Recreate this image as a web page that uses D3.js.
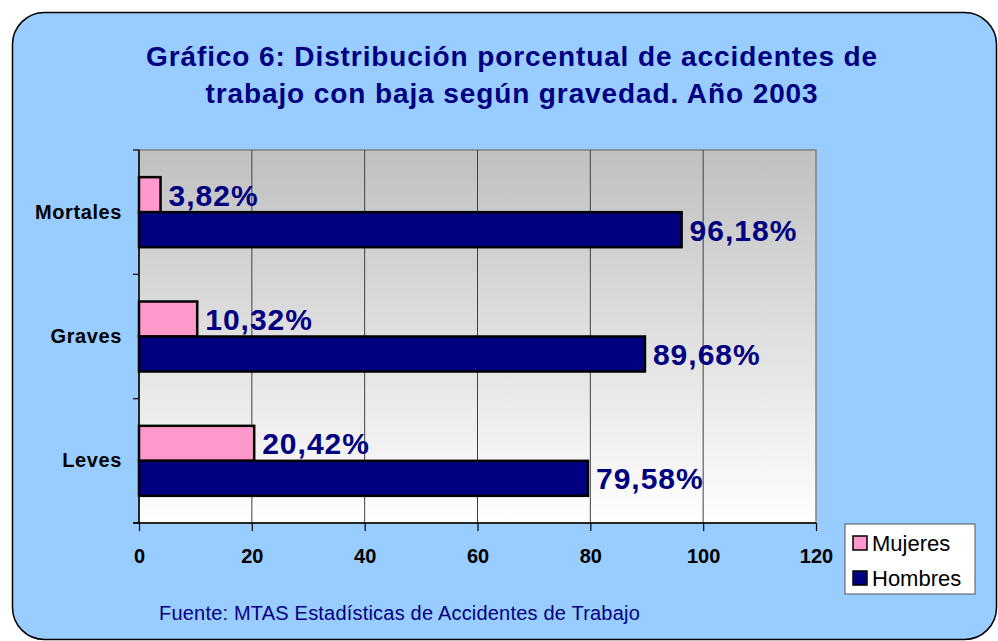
<!DOCTYPE html>
<html>
<head>
<meta charset="utf-8">
<script src="https://cdn.jsdelivr.net/npm/d3@7"></script>
<style>
  body { margin: 0; background: #fff; }
  svg { display: block; font-family: "Liberation Sans", Arial, sans-serif; }
</style>
</head>
<body>
<div id="chart"></div>
<script>
// chart data
var categories = ["Mortales", "Graves", "Leves"];
var seriesNames = ["Mujeres", "Hombres"];
var mujeres = [3.82, 10.32, 20.42];
var hombres = [96.18, 89.68, 79.58];
var xTicks = [0, 20, 40, 60, 80, 100, 120];
var titleLines = ["Gráfico 6: Distribución porcentual de accidentes de",
                  "trabajo con baja según gravedad. Año 2003"];
var sourceText = "Fuente: MTAS Estadísticas de Accidentes de Trabajo";

var W = 998, H = 641;
var colors = {Mujeres: "#FF99CC", Hombres: "#000080"};

var svg = d3.select("#chart")
    .append("svg")
    .attr("width", W)
    .attr("height", H);

// outer rounded frame
svg.append("rect")
    .attr("x", 12.5).attr("y", 12.5)
    .attr("width", 984).attr("height", 627)
    .attr("rx", 32).attr("ry", 32)
    .attr("fill", "#99CCFF")
    .attr("stroke", "#000")
    .attr("stroke-width", 1.5);

// title
svg.append("g").selectAll("text")
    .data(titleLines)
    .enter().append("text")
    .attr("x", 512)
    .attr("y", function(d, i) { return 66 + i * 37; })
    .attr("text-anchor", "middle")
    .attr("fill", "#000080")
    .style("font-size", "28px")
    .style("letter-spacing", "0.9px")
    .style("font-weight", "bold")
    .text(function(d) { return d; });

var margin = {top: 150, left: 139},
    width = 816 - 139,
    height = 523 - 150;

var g = svg.append("g")
    .attr("transform", "translate(" + margin.left + "," + margin.top + ")");

// gradient plot background
var grad = svg.append("defs").append("linearGradient")
    .attr("id", "plotBg")
    .attr("x1", 0).attr("y1", 0).attr("x2", 0).attr("y2", 1);
grad.append("stop").attr("offset", "0%").attr("stop-color", "#C0C0C0");
grad.append("stop").attr("offset", "100%").attr("stop-color", "#FFFFFF");

g.append("rect")
    .attr("width", width)
    .attr("height", height)
    .attr("fill", "url(#plotBg)")
    .attr("stroke", "#808080")
    .attr("stroke-width", 1.5);

var x = d3.scaleLinear()
    .domain([0, 120])
    .range([0, width]);

var y = d3.scaleBand()
    .domain(categories)
    .range([0, height]);

var ySub = d3.scaleBand()
    .domain(seriesNames)
    .range([0, 70]);

// vertical gridlines
g.append("g").selectAll("line")
    .data(xTicks.slice(1, -1))
    .enter().append("line")
    .attr("x1", function(d) { return x(d); })
    .attr("x2", function(d) { return x(d); })
    .attr("y1", 0).attr("y2", height)
    .attr("stroke", "#404040")
    .attr("stroke-width", 1);

// bars
var rows = categories.map(function(c, i) {
    return {cat: c, values: [
        {name: "Mujeres", value: mujeres[i]},
        {name: "Hombres", value: hombres[i]}
    ]};
});

var groups = g.selectAll(".grp")
    .data(rows)
    .enter().append("g")
    .attr("class", "grp")
    .attr("transform", function(d) {
        return "translate(0," + (y(d.cat) + y.bandwidth() / 2 - 35) + ")";
    });

groups.selectAll("rect")
    .data(function(d) { return d.values; })
    .enter().append("rect")
    .attr("x", 0)
    .attr("y", function(d) { return ySub(d.name); })
    .attr("width", function(d) { return x(d.value); })
    .attr("height", ySub.bandwidth())
    .attr("fill", function(d) { return colors[d.name]; })
    .attr("stroke", "#000")
    .attr("stroke-width", 2.5);

groups.selectAll("text")
    .data(function(d) { return d.values; })
    .enter().append("text")
    .attr("x", function(d) { return x(d.value) + 8; })
    .attr("y", function(d) { return ySub(d.name) + ySub.bandwidth() / 2 + 11; })
    .attr("fill", "#000080")
    .style("font-size", "30px")
    .style("letter-spacing", "1px")
    .style("font-weight", "bold")
    .text(function(d) { return d.value.toFixed(2).replace(".", ",") + "%"; });

// x axis
var xAxis = g.append("g")
    .attr("transform", "translate(0," + height + ")")
    .call(d3.axisBottom(x).tickValues(xTicks).tickSize(8).tickSizeOuter(0));
xAxis.select(".domain").attr("stroke", "#000").attr("stroke-width", 1.5)
    .attr("d", "M-6,0H" + width);
xAxis.selectAll(".tick line").attr("stroke", "#000").attr("stroke-width", 1.2);
xAxis.selectAll("text")
    .attr("dy", 0)
    .attr("y", 40)
    .attr("fill", "#000")
    .style("font-size", "20px")
    .style("font-weight", "bold")
    .style("font-family", "Liberation Sans, Arial, sans-serif");

// y axis
var yAxis = g.append("g")
    .call(d3.axisLeft(y).tickSize(0).tickPadding(17));
yAxis.select(".domain").attr("stroke", "#000").attr("stroke-width", 1.5)
    .attr("d", "M0,0V" + height);
yAxis.selectAll("text")
    .attr("fill", "#000")
    .style("font-size", "20px")
    .style("letter-spacing", "0.6px")
    .style("font-weight", "bold")
    .style("font-family", "Liberation Sans, Arial, sans-serif");

// category boundary ticks
g.append("g").selectAll("line")
    .data(d3.range(categories.length + 1))
    .enter().append("line")
    .attr("x1", -6).attr("x2", 0)
    .attr("y1", function(i) { return i * y.step(); })
    .attr("y2", function(i) { return i * y.step(); })
    .attr("stroke", "#000")
    .attr("stroke-width", 1.2);

// legend
var legend = svg.append("g")
    .attr("transform", "translate(845,524)");
legend.append("rect")
    .attr("width", 130).attr("height", 70)
    .attr("fill", "#fff")
    .attr("stroke", "#555")
    .attr("stroke-width", 1);
var li = legend.selectAll(".li")
    .data(seriesNames)
    .enter().append("g")
    .attr("class", "li")
    .attr("transform", function(d, i) { return "translate(8," + (12 + i * 35) + ")"; });
li.append("rect")
    .attr("width", 14).attr("height", 14)
    .attr("fill", function(d) { return colors[d]; })
    .attr("stroke", "#000")
    .attr("stroke-width", 1.5);
li.append("text")
    .attr("x", 19).attr("y", 15)
    .attr("fill", "#000")
    .style("font-size", "22px")
    .text(function(d) { return d; });

// source note
svg.append("text")
    .attr("x", 159).attr("y", 620)
    .attr("fill", "#000080")
    .style("font-size", "20px")
    .style("letter-spacing", "0.2px")
    .text(sourceText);
</script>
</body>
</html>
